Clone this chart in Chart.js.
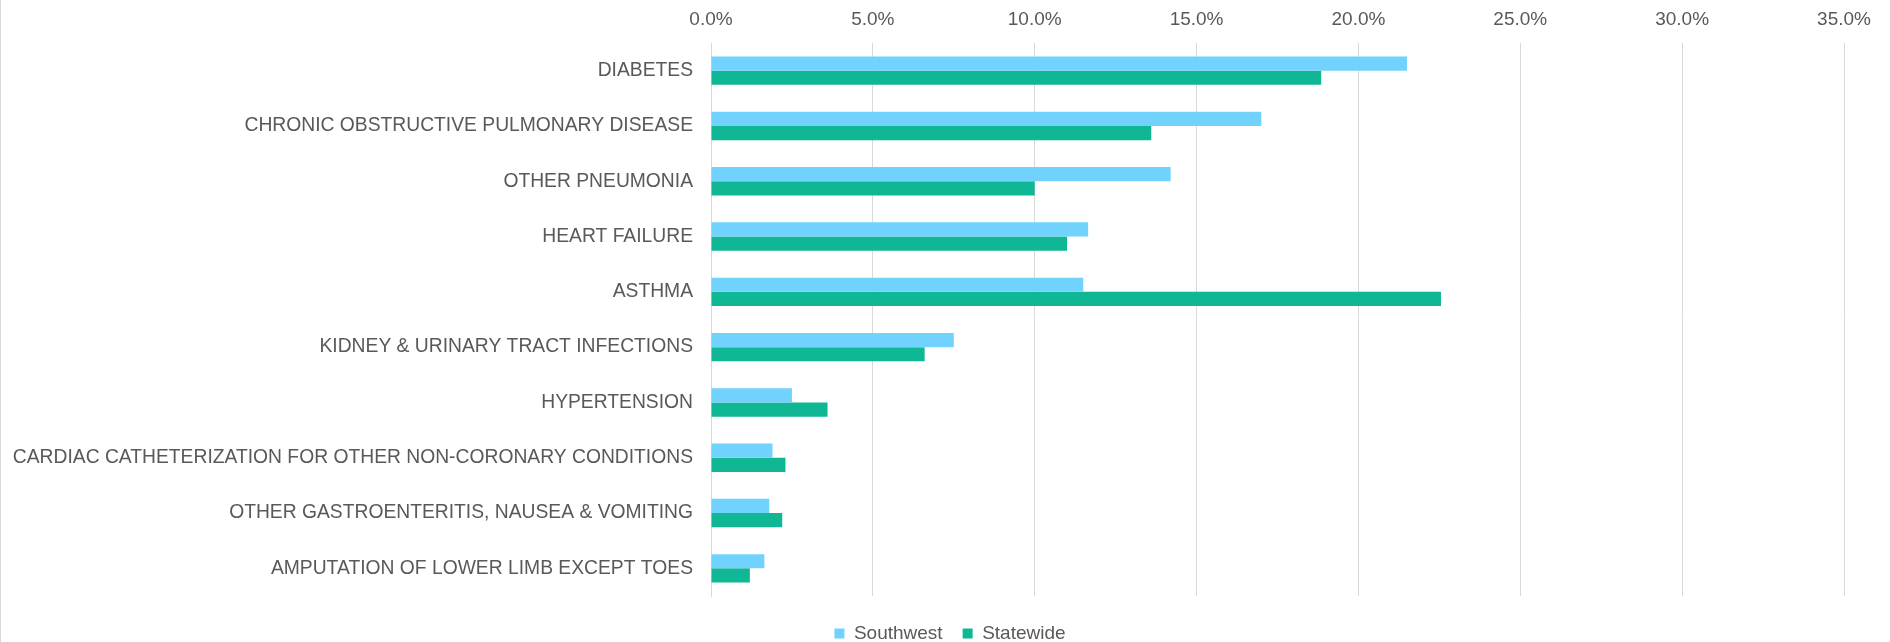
<!DOCTYPE html>
<html>
<head>
<meta charset="utf-8">
<script src="https://cdn.jsdelivr.net/npm/chart.js@4.4.1/dist/chart.umd.min.js"></script>
<style>
  html, body { margin: 0; padding: 0; background: #fff; }
  .wrap { position: relative; width: 1890px; height: 642px; box-sizing: border-box; border-left: 1px solid #d9d9d9; }
</style>
</head>
<body>
<div class="wrap"><canvas id="chart"></canvas></div>
<script>
/* data */
const categories = [
    'DIABETES',
    'CHRONIC OBSTRUCTIVE PULMONARY DISEASE',
    'OTHER PNEUMONIA',
    'HEART FAILURE',
    'ASTHMA',
    'KIDNEY & URINARY TRACT INFECTIONS',
    'HYPERTENSION',
    'CARDIAC CATHETERIZATION FOR OTHER NON-CORONARY CONDITIONS',
    'OTHER GASTROENTERITIS, NAUSEA & VOMITING',
    'AMPUTATION OF LOWER LIMB EXCEPT TOES'
];
const southwest = [21.5, 17.0, 14.2, 11.65, 11.5, 7.5, 2.5, 1.9, 1.8, 1.65];
const statewide = [18.85, 13.6, 10.0, 11.0, 22.55, 6.6, 3.6, 2.3, 2.2, 1.2];
const xTicks = [0, 5, 10, 15, 20, 25, 30, 35];

const FONT = "'Liberation Sans', Arial, sans-serif";
const GREY = '#595959';

// nudge the legend a little right and down, like in the original
const legendNudge = {
    id: 'legendNudge',
    afterLayout(chart) {
        const lg = chart.legend;
        if (!lg) return;
        lg.left += 23; lg.right += 23;
        lg.top += 8; lg.bottom += 8;
    }
};

document.addEventListener('DOMContentLoaded', () => {
    const ctx = document.getElementById('chart').getContext('2d');
    new Chart(ctx, {
        type: 'bar',
        data: {
            labels: categories,
            datasets: [
                { label: 'Southwest', data: southwest, backgroundColor: '#72D2FE' },
                { label: 'Statewide', data: statewide, backgroundColor: '#10B794' }
            ]
        },
        plugins: [legendNudge],
        options: {
            indexAxis: 'y',
            responsive: true,
            maintainAspectRatio: false,
            animation: false,
            layout: { padding: { left: 9, right: 46, top: 0, bottom: -3 } },
            datasets: { bar: { categoryPercentage: 0.514, barPercentage: 1.0 } },
            scales: {
                x: {
                    position: 'top',
                    min: 0,
                    max: 35,
                    afterBuildTicks: axis => { axis.ticks = xTicks.map(v => ({ value: v })); },
                    afterFit: axis => { axis.height = 43; },
                    border: { display: false },
                    grid: { color: '#d9d9d9', drawTicks: false, lineWidth: 1 },
                    ticks: {
                        padding: 12,
                        color: GREY,
                        font: { family: FONT, size: 19 },
                        callback: v => v.toFixed(1) + '%'
                    }
                },
                y: {
                    afterFit: axis => { axis.width = 701; },
                    border: { display: true, color: '#d9d9d9' },
                    grid: { display: false, drawTicks: false },
                    ticks: {
                        padding: 18,
                        color: GREY,
                        font: { family: FONT, size: 19.3 }
                    }
                }
            },
            plugins: {
                legend: {
                    position: 'bottom',
                    labels: {
                        boxWidth: 10,
                        boxHeight: 10,
                        padding: 20,
                        color: GREY,
                        font: { family: FONT, size: 19 }
                    }
                },
                tooltip: { enabled: false }
            }
        }
    });
});
</script>
</body>
</html>
